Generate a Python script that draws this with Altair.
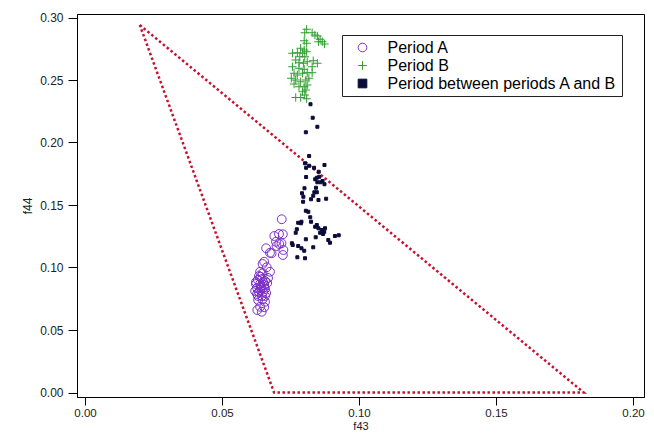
import altair as alt
import pandas as pd

# ---- data ----
cats = ["Period A", "Period B", "Period between periods A and B"]

a_f43 = [0.0718, 0.0691, 0.0708, 0.0722, 0.0697, 0.0709, 0.0717, 0.0699, 0.0724, 0.0722,
         0.0661, 0.0675, 0.0681, 0.0654, 0.0648, 0.0663, 0.0675, 0.0639, 0.0648, 0.0641,
         0.0631, 0.0646, 0.0657, 0.0624, 0.0639, 0.0654, 0.0665, 0.0628, 0.0642, 0.0657,
         0.0621, 0.0635, 0.0650, 0.0661, 0.0631, 0.0646, 0.0624, 0.0650, 0.0639, 0.0654,
         0.0628, 0.0642, 0.0657, 0.0635, 0.0668, 0.0632, 0.0648, 0.0657, 0.0639, 0.0654,
         0.0629, 0.0645]
a_f44 = [0.1386, 0.1252, 0.1268, 0.1266, 0.1206, 0.1188, 0.1194, 0.1172, 0.1140, 0.1100,
         0.1154, 0.1118, 0.1114, 0.1046, 0.1028, 0.1002, 0.0966, 0.0966, 0.0954, 0.0926,
         0.0900, 0.0908, 0.0892, 0.0868, 0.0868, 0.0860, 0.0876, 0.0836, 0.0836, 0.0828,
         0.0812, 0.0804, 0.0804, 0.0796, 0.0772, 0.0772, 0.0884, 0.0884, 0.0820, 0.0844,
         0.0788, 0.0852, 0.0772, 0.0932, 0.0916, 0.0740, 0.0746, 0.0726, 0.0686, 0.0682,
         0.0660, 0.0646]

b_f43 = [0.0809, 0.0802, 0.0829, 0.0839, 0.0848, 0.0858, 0.0866, 0.0874, 0.0852, 0.0800,
         0.0809, 0.0787, 0.0800, 0.0809, 0.0757, 0.0775, 0.0794, 0.0784, 0.0802, 0.0769,
         0.0781, 0.0797, 0.0811, 0.0833, 0.0848, 0.0829, 0.0757, 0.0781, 0.0800, 0.0763,
         0.0775, 0.0794, 0.0811, 0.0829, 0.0753, 0.0769, 0.0787, 0.0806, 0.0817, 0.0763,
         0.0781, 0.0800, 0.0811, 0.0794, 0.0806, 0.0769, 0.0787, 0.0802, 0.0809]
b_f44 = [0.2906, 0.2878, 0.2878, 0.2860, 0.2852, 0.2826, 0.2806, 0.2788, 0.2806, 0.2814,
         0.2794, 0.2754, 0.2740, 0.2726, 0.2714, 0.2718, 0.2714, 0.2686, 0.2686, 0.2660,
         0.2638, 0.2634, 0.2646, 0.2654, 0.2634, 0.2606, 0.2606, 0.2594, 0.2586, 0.2554,
         0.2540, 0.2554, 0.2558, 0.2558, 0.2514, 0.2500, 0.2486, 0.2500, 0.2514, 0.2468,
         0.2446, 0.2446, 0.2460, 0.2406, 0.2420, 0.2360, 0.2360, 0.2380, 0.2350]

m_f43 = [0.0823, 0.0831, 0.0848, 0.0806, 0.0818, 0.0874, 0.0803, 0.0807, 0.0818, 0.0836,
         0.0853, 0.0855, 0.0807, 0.0846, 0.0840, 0.0848, 0.0860, 0.0867, 0.0874, 0.0801,
         0.0843, 0.0792, 0.0837, 0.0846, 0.0797, 0.0833, 0.0796, 0.0825, 0.0852, 0.0880,
         0.0806, 0.0815, 0.0822, 0.0778, 0.0790, 0.0788, 0.0825, 0.0846, 0.0840, 0.0852,
         0.0864, 0.0876, 0.0873, 0.0858, 0.0869, 0.0773, 0.0769, 0.0806, 0.0842, 0.0888,
         0.0894, 0.0912, 0.0926, 0.0755, 0.0778, 0.0790, 0.0833, 0.0775, 0.0803, 0.0758,
         0.0800]
m_f44 = [0.2306, 0.2198, 0.2126, 0.2082, 0.1892, 0.1820, 0.1834, 0.1798, 0.1814, 0.1798,
         0.1766, 0.1726, 0.1724, 0.1718, 0.1706, 0.1682, 0.1682, 0.1692, 0.1666, 0.1634,
         0.1638, 0.1594, 0.1602, 0.1602, 0.1566, 0.1574, 0.1526, 0.1546, 0.1540, 0.1550,
         0.1454, 0.1446, 0.1402, 0.1358, 0.1366, 0.1354, 0.1366, 0.1340, 0.1326, 0.1314,
         0.1300, 0.1314, 0.1286, 0.1278, 0.1268, 0.1306, 0.1278, 0.1226, 0.1242, 0.1220,
         0.1198, 0.1252, 0.1258, 0.1194, 0.1172, 0.1154, 0.1162, 0.1082, 0.1074, 0.1180,
         0.1134]

tri_f43 = [0.0200, 0.1820, 0.0690, 0.0200]
tri_f44 = [0.2940, 0.0000, 0.0000, 0.2940]

tick_vals_x = [0.0, 0.05, 0.10, 0.15, 0.20]
tick_vals_y = [0.0, 0.05, 0.10, 0.15, 0.20, 0.25, 0.30]

# ---- styling ----
purple = "#7b2fc7"
green = "#2e9e2e"
navy = "#0b0b3b"
red = "#c8102e"
font = "Liberation Sans"

df_a = pd.DataFrame({"f43": a_f43, "f44": a_f44, "series": cats[0]})
df_b = pd.DataFrame({"f43": b_f43, "f44": b_f44, "series": cats[1]})
df_m = pd.DataFrame({"f43": m_f43, "f44": m_f44, "series": cats[2]})
df_t = pd.DataFrame({"f43": tri_f43, "f44": tri_f44, "o": list(range(len(tri_f43)))})

xscale = alt.Scale(domain=[-0.00292, 0.20401], nice=False, zero=False)
yscale = alt.Scale(domain=[-0.0036, 0.3028], nice=False, zero=False)

xenc = alt.X("f43:Q", scale=xscale, title="f43",
             axis=alt.Axis(values=tick_vals_x, format=".2f", grid=False, tickSize=8,
                           labelPadding=2, labelFontSize=11.5, titlePadding=1.5,
                           titleFontSize=11, labelFlush=False))
yenc = alt.Y("f44:Q", scale=yscale, title="f44",
             axis=alt.Axis(values=tick_vals_y, format=".2f", grid=False, tickSize=9,
                           labelPadding=5, titlePadding=5, labelFlush=False))

plus_path = "M-1,0H1M0,-1V1"
legend = alt.Legend(title=None, orient="none", legendX=265, legendY=21,
                    strokeColor="#222", fillColor="white", padding=4.5,
                    symbolOffset=8, labelOffset=17, labelFontSize=16, labelFont=font,
                    labelColor="black", labelLimit=0, rowPadding=2, symbolSize=75,
                    symbolStrokeWidth=1)

color = alt.Color("series:N", scale=alt.Scale(domain=cats, range=[purple, green, navy]),
                  legend=legend)
shape = alt.Shape("series:N", scale=alt.Scale(domain=cats, range=["circle", plus_path, "square"]),
                  legend=legend)
fill = alt.Fill("series:N", scale=alt.Scale(domain=cats, range=["transparent", "transparent", navy]),
                legend=legend)

tri = alt.Chart(df_t).mark_line(color=red, strokeWidth=2.5, strokeDash=[2.5, 2.5]).encode(
    x=xenc, y=yenc, order="o:Q")

def pts(df, size):
    return alt.Chart(df).mark_point(filled=False, strokeWidth=1, opacity=1, size=size).encode(
        x=xenc, y=yenc, color=color, shape=shape, fill=fill)

chart = alt.layer(tri, pts(df_m, 9), pts(df_a, 78), pts(df_b, 70)).properties(
    width=567, height=383, autosize="none",
    padding={"left": 69, "top": 6, "right": 2, "bottom": 34},
).configure_view(stroke="black", strokeWidth=1).configure_axis(
    domainColor="black", tickColor="black", labelColor="#222", titleColor="#222",
    labelFont=font, titleFont=font, labelFontSize=12, titleFontSize=12,
    titleFontWeight="normal",
)

chart.save("out.html", embed_options={"renderer": "svg", "actions": False})
